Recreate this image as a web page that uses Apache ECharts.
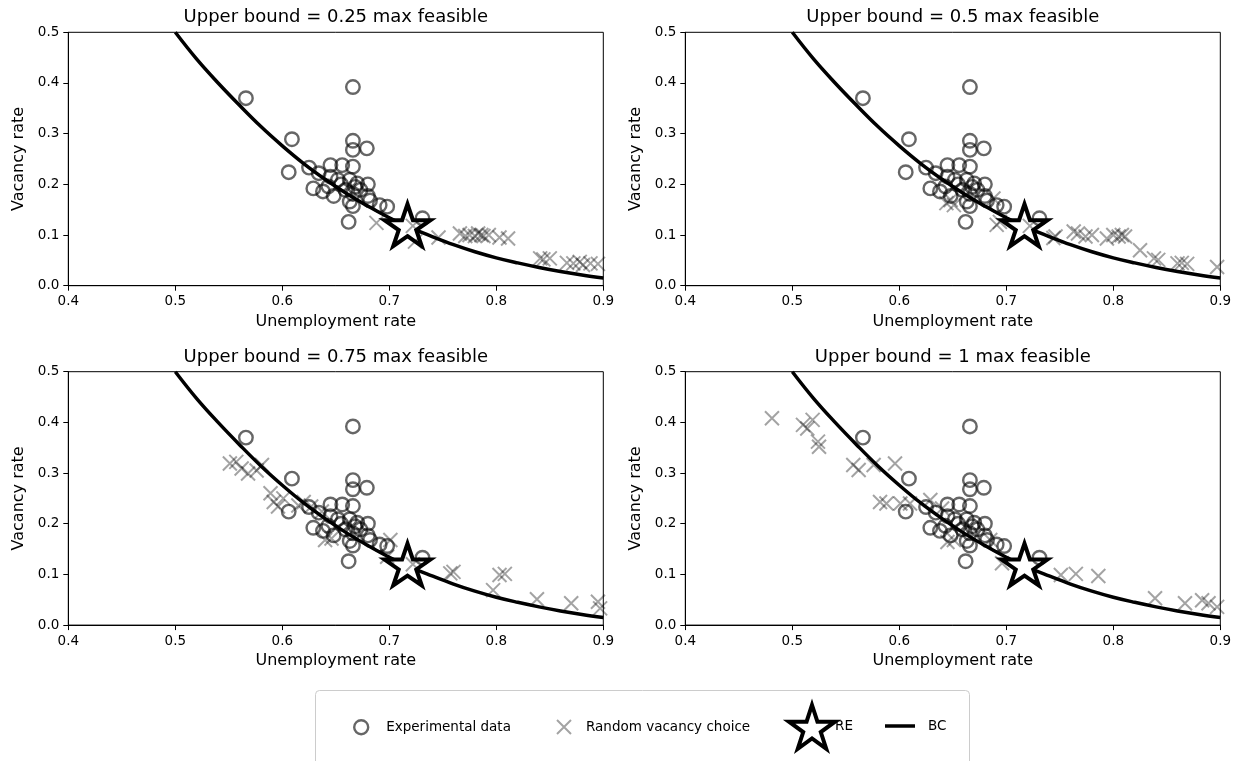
<!DOCTYPE html>
<html><head><meta charset="utf-8">
<script src="https://cdn.jsdelivr.net/npm/echarts@6/dist/echarts.min.js"></script>
<style>html,body{margin:0;padding:0;background:#fff}#c{width:1241px;height:761px}</style>
</head><body><div id="c"></div>
<script>
// ---------- data ----------
const panelTitles = [
  'Upper bound = 0.25 max feasible',
  'Upper bound = 0.5 max feasible',
  'Upper bound = 0.75 max feasible',
  'Upper bound = 1 max feasible'
];
const xName = 'Unemployment rate';
const yName = 'Vacancy rate';
const xMin = 0.4, xMax = 0.9, xStep = 0.1;
const yMin = 0.0, yMax = 0.5, yStep = 0.1;

const expData = [
  [0.566,0.370],[0.666,0.392],[0.609,0.289],[0.606,0.224],[0.666,0.286],[0.666,0.268],[0.679,0.271],
  [0.625,0.233],[0.645,0.238],[0.656,0.238],[0.666,0.235],[0.634,0.222],[0.645,0.215],[0.652,0.209],
  [0.663,0.209],[0.670,0.202],[0.680,0.200],[0.629,0.192],[0.638,0.186],[0.648,0.177],[0.659,0.189],
  [0.666,0.181],[0.673,0.189],[0.680,0.177],[0.663,0.166],[0.666,0.157],[0.682,0.168],[0.691,0.159],
  [0.698,0.156],[0.662,0.126],[0.731,0.133],[0.643,0.196],[0.668,0.195],[0.655,0.200]
];
const random025 = [
  [0.688,0.124],[0.722,0.118],[0.724,0.087],[0.746,0.095],[0.766,0.103],[0.771,0.098],[0.775,0.100],
  [0.780,0.098],[0.783,0.103],[0.786,0.100],[0.788,0.098],[0.793,0.100],[0.803,0.095],[0.811,0.093],
  [0.841,0.054],[0.844,0.052],[0.850,0.054],[0.866,0.045],[0.872,0.044],[0.878,0.047],[0.881,0.041],
  [0.888,0.044],[0.895,0.043]
];
const random05 = [
  [0.644,0.163],[0.648,0.169],[0.651,0.159],[0.688,0.172],[0.694,0.126],[0.691,0.120],[0.722,0.118],
  [0.744,0.094],[0.746,0.097],[0.763,0.107],[0.767,0.103],[0.774,0.097],[0.780,0.100],[0.794,0.093],
  [0.800,0.100],[0.805,0.097],[0.808,0.100],[0.811,0.097],[0.825,0.070],[0.838,0.054],[0.842,0.051],
  [0.860,0.044],[0.864,0.045],[0.869,0.043],[0.897,0.037]
];
const random075 = [
  [0.551,0.319],[0.557,0.322],[0.562,0.309],[0.568,0.299],[0.581,0.316],[0.576,0.305],[0.589,0.260],
  [0.592,0.243],[0.596,0.234],[0.601,0.250],[0.615,0.236],[0.620,0.243],[0.627,0.234],[0.637,0.224],
  [0.640,0.168],[0.646,0.171],[0.701,0.168],[0.698,0.135],[0.722,0.120],[0.757,0.102],[0.760,0.105],
  [0.797,0.069],[0.803,0.099],[0.808,0.101],[0.838,0.051],[0.870,0.043],[0.895,0.046],[0.897,0.033]
];
const random1 = [
  [0.481,0.408],[0.510,0.395],[0.514,0.388],[0.519,0.405],[0.524,0.362],[0.525,0.352],[0.557,0.316],
  [0.562,0.306],[0.576,0.316],[0.596,0.319],[0.582,0.243],[0.588,0.240],[0.601,0.240],[0.610,0.240],
  [0.629,0.247],[0.640,0.230],[0.645,0.164],[0.651,0.168],[0.685,0.168],[0.696,0.122],[0.751,0.099],
  [0.765,0.101],[0.786,0.097],[0.839,0.053],[0.867,0.043],[0.883,0.049],[0.889,0.043],[0.897,0.036]
];
const randomSets = [random025, random05, random075, random1];
const reData = [[0.717, 0.115]];
const bcU = [0.50,0.52,0.54,0.56,0.58,0.60,0.62,0.64,0.66,0.68,0.70,0.72,0.74,0.76,0.78,0.80,0.82,0.84,0.86,0.88,0.90];
const bcV = [0.500,0.447,0.400,0.356,0.314,0.276,0.241,0.210,0.182,0.157,0.134,0.114,0.097,0.081,0.067,0.055,0.045,0.036,0.028,0.021,0.015];

// ---------- styling / layout ----------
const FONT = 'DejaVu Sans';
const crossPath = 'path://M0,0L10,10M10,0L0,10';
const starPath = 'path://M100,0L122.45,69.1L195.1,69.1L136.3,111.8L158.8,180.9L100,138.2L41.2,180.9L63.7,111.8L4.9,69.1L77.55,69.1Z';
const circleStyle = {color:'rgba(0,0,0,0)', borderColor:'rgba(0,0,0,0.75)', borderWidth:2.4};
const crossStyle = {color:'rgba(0,0,0,0)', borderColor:'rgba(0,0,0,0.45)', borderWidth:2};
const starStyle = {color:'#ffffff', borderColor:'#000', borderWidth:4, opacity:1};

const gridPos = [
  {left:68.3, top:32.3}, {left:685.3, top:32.3},
  {left:68.3, top:371.7}, {left:685.3, top:371.7}
];
const GW = 535, GH = 253.4;

const grids = [], xAxes = [], yAxes = [], series = [], graphics = [];
gridPos.forEach((g, i) => {
  grids.push({left:g.left, top:g.top, width:GW, height:GH, show:true, borderColor:'#000', borderWidth:1,
              backgroundColor:'rgba(0,0,0,0)', containLabel:false, outerBoundsMode:'none'});
  xAxes.push({
    gridIndex:i, type:'value', min:xMin, max:xMax, interval:xStep,
    axisLine:{show:true, onZero:false, lineStyle:{color:'#000', width:1}},
    axisTick:{show:true, length:5, lineStyle:{color:'#000', width:1}},
    axisLabel:{color:'#000', fontSize:13.5, fontFamily:FONT, margin:9, formatter:v=>v.toFixed(1)},
    splitLine:{show:false},
    name:xName, nameLocation:'middle', nameGap:28,
    nameTextStyle:{color:'#000', fontSize:16, fontFamily:FONT}
  });
  yAxes.push({
    gridIndex:i, type:'value', min:yMin, max:yMax, interval:yStep,
    axisLine:{show:true, onZero:false, lineStyle:{color:'#000', width:1}},
    axisTick:{show:true, length:5, lineStyle:{color:'#000', width:1}},
    axisLabel:{color:'#000', fontSize:13.5, fontFamily:FONT, margin:9, formatter:v=>v.toFixed(1)},
    splitLine:{show:false},
    name:yName, nameLocation:'middle', nameGap:41,
    nameTextStyle:{color:'#000', fontSize:16, fontFamily:FONT}
  });
  series.push({
    name:'BC', type:'line', xAxisIndex:i, yAxisIndex:i, z:1,
    data: bcU.map((u,k)=>[u, bcV[k]]), showSymbol:false, symbol:'none', smooth:0.4,
    lineStyle:{color:'#000', width:3.5}, itemStyle:{color:'#000'}, clip:true
  });
  series.push({
    name:'RE', type:'scatter', xAxisIndex:i, yAxisIndex:i, z:2,
    data:reData, symbol:starPath, symbolSize:[46,44], symbolKeepAspect:true, symbolOffset:[0,-2.3],
    itemStyle:starStyle
  });
  series.push({
    name:'Experimental data', type:'scatter', xAxisIndex:i, yAxisIndex:i, z:3,
    data:expData, symbol:'circle', symbolSize:13.5, itemStyle:circleStyle
  });
  series.push({
    name:'Random vacancy choice', type:'scatter', xAxisIndex:i, yAxisIndex:i, z:4,
    data:randomSets[i], symbol:crossPath, symbolSize:14, itemStyle:crossStyle
  });
  graphics.push({
    type:'text', x:g.left + GW/2, y:g.top - 14.5,
    style:{text:panelTitles[i], fill:'#000', font:'18px "DejaVu Sans"', textAlign:'center', textVerticalAlign:'middle'}
  });
});

graphics.push({
  type:'rect', z:-10, shape:{x:315.5, y:690.5, width:654, height:80, r:4},
  style:{fill:'#fff', stroke:'#cccccc', lineWidth:1}
});

const legTxt = {color:'#000', fontSize:13.5, fontFamily:FONT, lineHeight:14};
const legends = [
  {data:[{name:'Experimental data', icon:'circle'}], left:353, top:719, itemWidth:14, itemHeight:14,
   itemStyle:circleStyle, textStyle:Object.assign({}, legTxt, {padding:[0,0,0,13]})},
  {data:[{name:'Random vacancy choice', icon:crossPath}], left:556, top:719, itemWidth:14, itemHeight:14,
   itemStyle:crossStyle, textStyle:Object.assign({}, legTxt, {padding:[0,0,0,10]})},
  {data:[{name:'RE', icon:starPath}], left:787, top:703, itemWidth:46, itemHeight:44,
   itemStyle:starStyle, textStyle:Object.assign({}, legTxt, {padding:[0,0,0,-5]})},
  {data:[{name:'BC', icon:'rect'}], left:885, top:719, itemWidth:30, itemHeight:3.5,
   itemStyle:{color:'#000', borderWidth:0}, lineStyle:{width:0}, textStyle:Object.assign({}, legTxt, {padding:[0,0,0,8]})}
].map(l => Object.assign({padding:0, selectedMode:false, orient:'horizontal', z:10}, l));

const chart = echarts.init(document.getElementById('c'), null, {renderer:'canvas'});
chart.setOption({
  animation:false,
  backgroundColor:'#fff',
  grid:grids, xAxis:xAxes, yAxis:yAxes, series:series,
  legend:legends, graphic:graphics
});
</script></body></html>
